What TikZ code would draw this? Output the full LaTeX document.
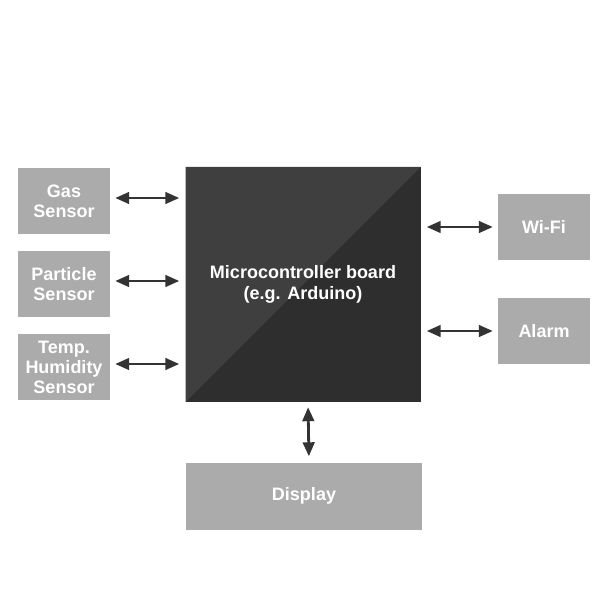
\documentclass[tikz,border=0pt]{standalone}
\usepackage{fontspec}
\setmainfont{Liberation Sans}
\usetikzlibrary{arrows.meta}
\definecolor{boxgray}{HTML}{ABABAB}
\definecolor{mcudark}{HTML}{2E2E2E}
\definecolor{mculight}{HTML}{3F3F3F}
\definecolor{arrowgray}{HTML}{333333}

\begin{document}
\begin{tikzpicture}[x=1pt,y=-1pt]
        \tikzstyle{block}=[fill=boxgray, text=white, font=\fontsize{18}{20}\selectfont\bfseries, align=center, inner sep=0pt, minimum width=92pt, minimum height=66pt]
        \tikzstyle{board}=[fill=mcudark, text=white, font=\fontsize{18}{21.5}\selectfont\bfseries, align=center, inner sep=0pt, minimum size=235pt,
            path picture={\fill[mculight] (path picture bounding box.south west) -- (path picture bounding box.north west) -- (path picture bounding box.north east) -- cycle;}]
        \tikzstyle{link}=[arrowgray, line width=2.8pt, {Triangle[length=14pt,width=11.5pt]}-{Triangle[length=14pt,width=11.5pt]}, shorten <=5pt, shorten >=6pt]

        \useasboundingbox (0,0) rectangle (609,609);

        \node[board] (mcu) at (303,284.5) {Microcontroller board\\(e.g. Arduino)};

        \node[block] (gas) at (64,201) {Gas\\Sensor};
        \node[block] (particle) at (64,284) {Particle\\Sensor};
        \node[block] (temp) at (64,367) {Temp.\\Humidity\\Sensor};
        \node[block] (wifi) at (544,227) {Wi-Fi};
        \node[block] (alarm) at (544,331) {Alarm};
        \node[block, minimum width=236pt, minimum height=67pt] (display) at (304,496) {Display};

        \draw[link] ([yshift=3pt]gas.east) -- ([yshift=3pt]gas.east -| mcu.west);
        \draw[link] ([yshift=3pt]particle.east) -- ([yshift=3pt]particle.east -| mcu.west);
        \draw[link] ([yshift=3pt]temp.east) -- ([yshift=3pt]temp.east -| mcu.west);
        \draw[link] (wifi.west) -- (wifi.west -| mcu.east);
        \draw[link] (alarm.west) -- (alarm.west -| mcu.east);
        \draw[link] ([xshift=5pt]mcu.south) -- ([xshift=5pt]display.north);
    \end{tikzpicture}
\end{document}
